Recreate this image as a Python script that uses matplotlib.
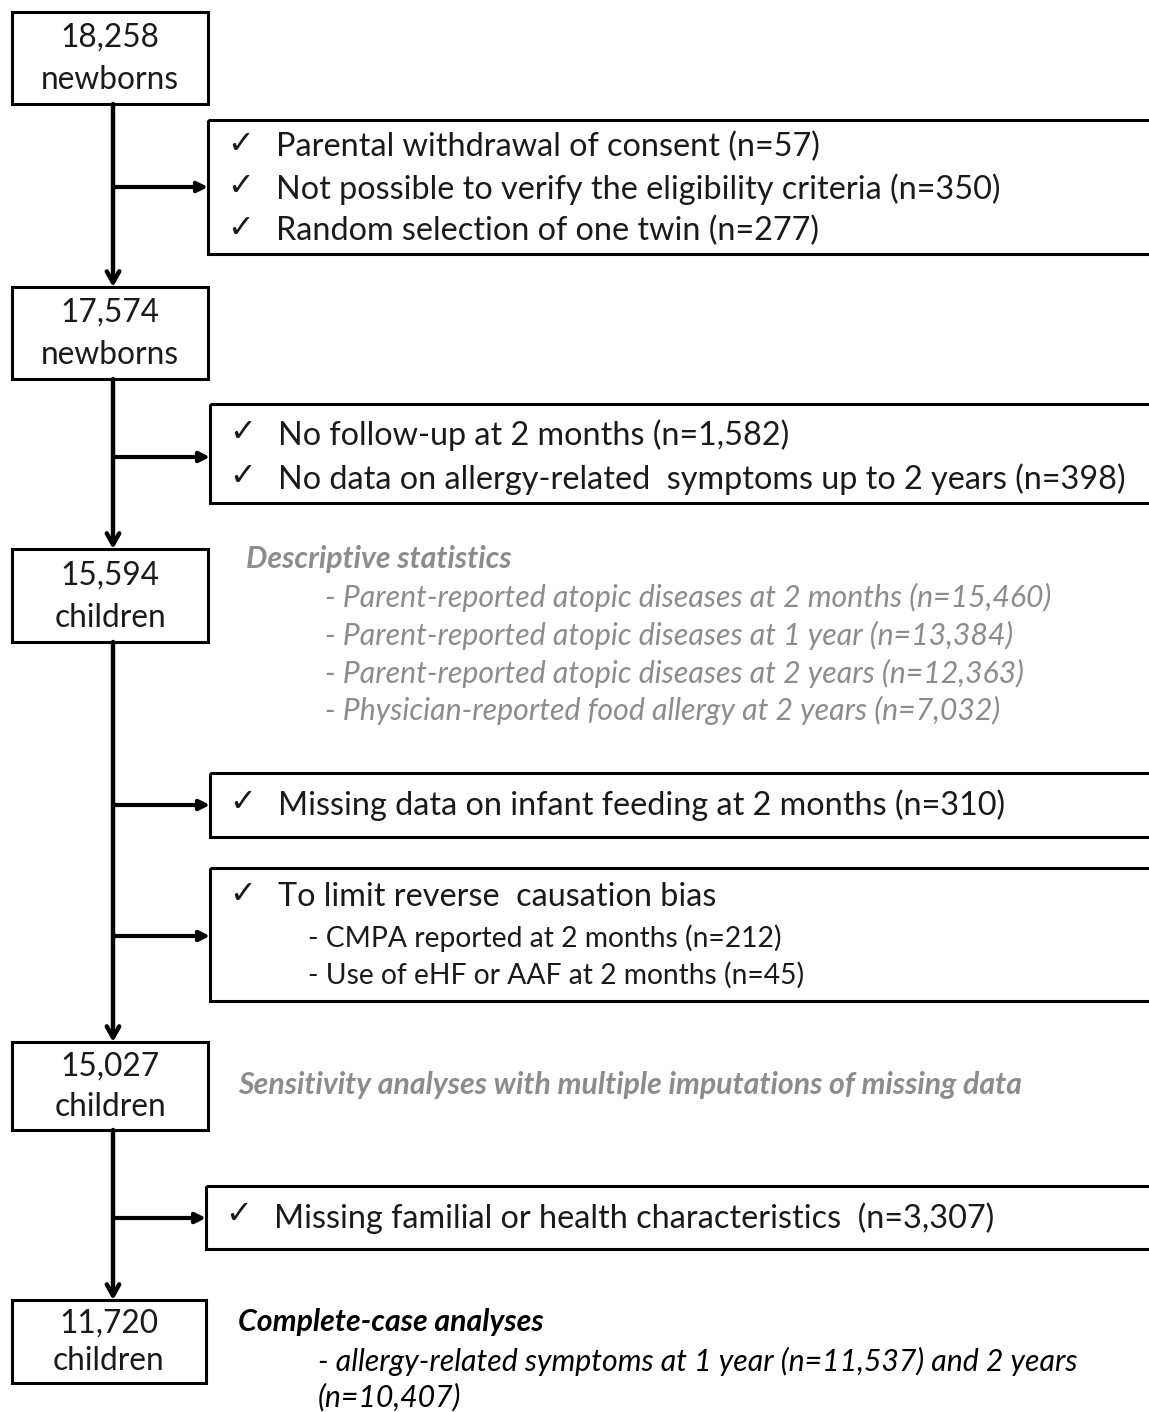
import matplotlib
matplotlib.use("Agg")
import matplotlib.pyplot as plt
from matplotlib.patches import Rectangle

# ---------------- data ----------------
stage_counts = ["18,258", "17,574", "15,594", "15,027", "11,720"]
stage_units = ["newborns", "newborns", "children", "children", "children"]

excl1 = ["Parental withdrawal of consent (n=57)",
         "Not possible to verify the eligibility criteria (n=350)",
         "Random selection of one twin (n=277)"]
excl2 = ["No follow-up at 2 months (n=1,582)",
         "No data on allergy-related  symptoms up to 2 years (n=398)"]
excl3 = ["Missing data on infant feeding at 2 months (n=310)"]
excl4_head = "To limit reverse  causation bias"
excl4_sub = ["- CMPA reported at 2 months (n=212)",
             "- Use of eHF or AAF at 2 months (n=45)"]
excl5 = ["Missing familial or health characteristics  (n=3,307)"]

desc_title = "Descriptive statistics"
desc_items = ["- Parent-reported atopic diseases at 2 months (n=15,460)",
              "- Parent-reported atopic diseases at 1 year (n=13,384)",
              "- Parent-reported atopic diseases at 2 years (n=12,363)",
              "- Physician-reported food allergy at 2 years (n=7,032)"]
sens_title = "Sensitivity analyses with multiple imputations of missing data"
cc_title = "Complete-case analyses"
cc_items = ["- allergy-related symptoms at 1 year (n=11,537) and 2 years",
            "(n=10,407)"]

# ---------------- layout (pixels) ----------------
W, H = 1149, 1412
fig = plt.figure(figsize=(W / 100, H / 100), dpi=100)
ax = fig.add_axes([0, 0, 1, 1])
ax.set_xlim(0, W)
ax.set_ylim(H, 0)
ax.axis("off")

FAM = ["Lato", "DejaVu Sans"]
TXT = "#1a1a1a"
GRAY = "#8c8c8c"
BOX_LW = 2.2
MAIN_FS = 23.3
BOX_FS = 22.8
IT_FS = 21.8

def box(x0, y0, x1, y1):
    ax.add_patch(Rectangle((x0, y0), x1 - x0, y1 - y0, fill=False,
                           ec="black", lw=BOX_LW, zorder=3))

# stage boxes
stage_boxes = [(12, 12, 208, 104), (12, 287, 208, 379), (12, 549, 208, 642),
               (12, 1042, 208, 1130), (12, 1300, 206, 1383)]
for (x0, y0, x1, y1), c, u in zip(stage_boxes, stage_counts, stage_units):
    box(x0, y0, x1, y1)
    cx = (x0 + x1) / 2
    h = y1 - y0
    ax.text(cx, y0 + h * 0.28, c, ha="center", va="center", fontsize=BOX_FS,
            family=FAM, color=TXT)
    ax.text(cx, y0 + h * 0.74, u, ha="center", va="center", fontsize=BOX_FS,
            family=FAM, color=TXT)

# main vertical arrows
XM = 113
for (a, b) in zip(stage_boxes[:-1], stage_boxes[1:]):
    ax.annotate("", xy=(XM, b[1]), xytext=(XM, a[3]),
                arrowprops=dict(arrowstyle="->,head_length=0.8,head_width=0.45",
                                lw=3.2, color="black", shrinkA=0, shrinkB=0),
                zorder=2)

def branch(y, x_end):
    ax.annotate("", xy=(x_end, y), xytext=(XM, y),
                arrowprops=dict(arrowstyle="-|>,head_length=0.6,head_width=0.3",
                                lw=3.0, color="black", shrinkA=0, shrinkB=0),
                zorder=2)

def check_lines(lines, x_chk, x_txt, ys):
    for t, y in zip(lines, ys):
        ax.text(x_chk, y - 3, "\u2713", ha="left", va="center", fontsize=23,
                family=["DejaVu Sans"], color=TXT)
        ax.text(x_txt, y, t, ha="left", va="center", fontsize=MAIN_FS,
                family=FAM, color=TXT)

# exclusion box 1
box(208, 120, 1160, 254)
branch(187, 208)
check_lines(excl1, 227, 276, [147, 189, 231])

# exclusion box 2
box(210, 404, 1160, 503)
branch(457, 210)
check_lines(excl2, 229, 278, [435, 479])

# descriptive statistics
ax.text(246, 559, desc_title, ha="left", va="center", fontsize=IT_FS,
        family=FAM, style="italic", weight="bold", color=GRAY)
for t, y in zip(desc_items, [597, 635, 673, 710]):
    ax.text(325, y, t, ha="left", va="center", fontsize=IT_FS,
            family=FAM, style="italic", color=GRAY)

# exclusion box 3
box(210, 773, 1160, 837)
branch(805, 210)
check_lines(excl3, 229, 278, [805])

# exclusion box 4
box(210, 868, 1160, 1001)
branch(936, 210)
check_lines([excl4_head], 229, 278, [897])
for t, y in zip(excl4_sub, [938, 975]):
    ax.text(308, y, t, ha="left", va="center", fontsize=20.3,
            family=FAM, color=TXT)

# sensitivity
ax.text(238, 1085, sens_title, ha="left", va="center", fontsize=IT_FS,
        family=FAM, style="italic", weight="bold", color=GRAY)

# exclusion box 5
box(206, 1186, 1160, 1249)
branch(1218, 206)
check_lines(excl5, 225, 274, [1218])

# complete case
ax.text(238, 1322, cc_title, ha="left", va="center", fontsize=IT_FS,
        family=FAM, style="italic", weight="bold", color="black")
for t, y in zip(cc_items, [1361, 1397]):
    ax.text(318, y, t, ha="left", va="center", fontsize=IT_FS,
            family=FAM, style="italic", color="black")

fig.savefig("out.png", dpi=100)
